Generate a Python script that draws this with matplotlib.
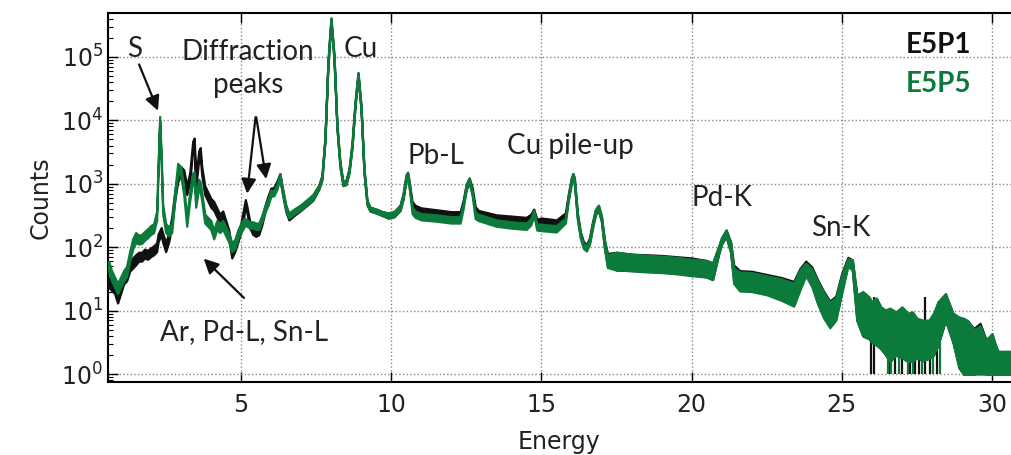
import numpy as np
import matplotlib
matplotlib.use("Agg")
import matplotlib.pyplot as plt

plt.rcParams["font.family"] = "DejaVu Sans"
plt.rcParams["mathtext.fontset"] = "dejavusans"

# --- spectrum data (log10 of counts) ---
energy = [
    0.6, 0.7, 0.8, 0.9, 1.0, 1.1, 1.2, 1.3, 1.4, 1.5,
    1.6, 1.7, 1.8, 1.9, 2.0, 2.1, 2.2, 2.25, 2.3, 2.35,
    2.4, 2.5, 2.6, 2.7, 2.8, 2.9, 3.0, 3.1, 3.2, 3.3,
    3.4, 3.45, 3.5, 3.6, 3.65, 3.7, 3.8, 3.9, 4.0, 4.1,
    4.2, 4.3, 4.4, 4.5, 4.6, 4.7, 4.8, 4.9, 5.0, 5.1,
    5.15, 5.2, 5.3, 5.4, 5.5, 5.6, 5.7, 5.8, 5.9, 6.0,
    6.1, 6.2, 6.3, 6.4, 6.5, 6.6, 6.8, 7.0, 7.2, 7.4,
    7.6, 7.7, 7.8, 7.9, 8.0, 8.1, 8.2, 8.3, 8.4, 8.5,
    8.6, 8.7, 8.8, 8.9, 9.0, 9.1, 9.2, 9.3, 9.5, 9.7,
    9.9, 10.1, 10.3, 10.4, 10.5, 10.55, 10.6, 10.7, 10.8, 11.0,
    11.5, 12.0, 12.3, 12.4, 12.5, 12.6, 12.7, 12.8, 12.9, 13.5,
    14.0, 14.5, 14.65, 14.75, 14.85, 15.0, 15.5, 15.8, 15.9, 16.0,
    16.05, 16.1, 16.2, 16.3, 16.4, 16.5, 16.6, 16.7, 16.8, 16.9,
    17.0, 17.1, 17.2, 17.5, 18.0, 18.5, 19.0, 19.5, 20.0, 20.5,
    20.7, 20.9, 21.0, 21.15, 21.3, 21.4, 21.6, 22.0, 22.5, 23.0,
    23.4, 23.6, 23.8, 24.0, 24.2, 24.4, 24.6, 24.8, 25.0, 25.2,
    25.35, 25.5, 25.7, 25.9, 26.0, 26.15, 26.3, 26.45, 26.6, 26.8,
    27.0, 27.2, 27.35, 27.5, 27.7, 27.9, 28.05, 28.2, 28.45, 28.7,
    28.9, 29.05, 29.2, 29.4, 29.6, 29.8, 30.0, 30.1, 30.2, 30.4,
    30.65,
]

# E5P1 (black): centre of the trace and half-width of its noise band
p1_level = [
    1.45, 1.40, 1.35, 1.20, 1.35, 1.50, 1.55, 1.70, 1.75, 1.80,
    1.85, 1.85, 1.90, 1.88, 1.92, 1.95, 2.00, 2.15, 2.20, 2.25,
    2.15, 2.00, 2.15, 2.40, 2.80, 3.10, 3.20, 3.15, 2.90, 3.10,
    3.60, 3.65, 3.00, 3.45, 3.50, 3.20, 2.90, 2.80, 2.70, 2.65,
    2.55, 2.45, 2.50, 2.35, 2.20, 1.90, 2.00, 2.15, 2.30, 2.55,
    2.70, 2.60, 2.35, 2.25, 2.22, 2.25, 2.40, 2.60, 2.75, 2.88,
    2.90, 3.00, 3.12, 2.85, 2.60, 2.47, 2.55, 2.62, 2.70, 2.78,
    2.95, 3.10, 3.70, 4.90, 5.58, 5.00, 3.90, 3.30, 3.00, 3.02,
    3.20, 3.60, 4.25, 4.72, 4.20, 3.20, 2.70, 2.60, 2.57, 2.53,
    2.50, 2.52, 2.62, 2.80, 3.10, 3.14, 3.00, 2.68, 2.62, 2.58,
    2.55, 2.52, 2.52, 2.70, 2.95, 3.05, 2.90, 2.60, 2.54, 2.47,
    2.45, 2.43, 2.48, 2.56, 2.40, 2.42, 2.39, 2.50, 2.80, 3.05,
    3.12, 3.05, 2.50, 2.20, 2.05, 2.00, 2.10, 2.35, 2.55, 2.62,
    2.45, 2.05, 1.80, 1.78, 1.76, 1.75, 1.74, 1.72, 1.70, 1.66,
    1.62, 1.95, 2.10, 2.22, 2.00, 1.60, 1.48, 1.47, 1.42, 1.35,
    1.28, 1.50, 1.68, 1.55, 1.30, 1.10, 0.95, 1.05, 1.45, 1.78,
    1.72, 1.04, 0.94, 0.88, 0.81, 0.82, 0.72, 0.65, 0.61, 0.63,
    0.65, 0.57, 0.58, 0.56, 0.52, 0.54, 0.62, 0.79, 1.05, 0.72,
    0.49, 0.43, 0.41, 0.36, 0.42, 0.27, 0.31, 0.23, 0.17, 0.17,
    0.17,
]
p1_spread = [
    0.08, 0.08, 0.08, 0.08, 0.08, 0.08, 0.08, 0.08, 0.08, 0.08,
    0.07, 0.07, 0.07, 0.07, 0.07, 0.07, 0.07, 0.06, 0.06, 0.06,
    0.07, 0.07, 0.07, 0.07, 0.07, 0.07, 0.07, 0.07, 0.07, 0.07,
    0.07, 0.07, 0.07, 0.07, 0.07, 0.07, 0.07, 0.07, 0.07, 0.07,
    0.07, 0.07, 0.07, 0.07, 0.07, 0.07, 0.07, 0.07, 0.07, 0.07,
    0.05, 0.05, 0.05, 0.05, 0.05, 0.05, 0.05, 0.05, 0.05, 0.05,
    0.04, 0.04, 0.04, 0.04, 0.04, 0.04, 0.04, 0.04, 0.04, 0.04,
    0.03, 0.03, 0.03, 0.03, 0.03, 0.03, 0.03, 0.03, 0.03, 0.03,
    0.03, 0.03, 0.03, 0.03, 0.03, 0.03, 0.03, 0.03, 0.03, 0.03,
    0.04, 0.04, 0.04, 0.04, 0.04, 0.04, 0.04, 0.04, 0.04, 0.04,
    0.04, 0.04, 0.04, 0.04, 0.04, 0.04, 0.04, 0.04, 0.04, 0.04,
    0.04, 0.04, 0.04, 0.04, 0.04, 0.04, 0.04, 0.04, 0.04, 0.04,
    0.04, 0.04, 0.04, 0.04, 0.04, 0.04, 0.04, 0.04, 0.04, 0.04,
    0.04, 0.06, 0.10, 0.14, 0.13, 0.13, 0.13, 0.13, 0.13, 0.13,
    0.13, 0.06, 0.05, 0.05, 0.08, 0.12, 0.15, 0.15, 0.15, 0.17,
    0.18, 0.16, 0.10, 0.14, 0.18, 0.20, 0.20, 0.18, 0.14, 0.06,
    0.08, 0.19, 0.34, 0.32, 0.31, 0.36, 0.32, 0.34, 0.41, 0.33,
    0.39, 0.37, 0.38, 0.30, 0.31, 0.29, 0.32, 0.33, 0.20, 0.22,
    0.39, 0.43, 0.41, 0.36, 0.38, 0.27, 0.31, 0.23, 0.17, 0.17,
    0.17,
]

# E5P5 (green)
p5_level = [
    1.70, 1.55, 1.45, 1.35, 1.45, 1.55, 1.62, 1.85, 2.05, 2.15,
    2.12, 2.13, 2.18, 2.22, 2.27, 2.30, 2.50, 3.30, 4.03, 3.40,
    2.60, 2.30, 2.25, 2.30, 2.80, 3.25, 3.20, 2.90, 2.40, 2.80,
    3.10, 3.12, 2.70, 3.00, 2.95, 2.80, 2.45, 2.40, 2.35, 2.20,
    2.35, 2.30, 2.35, 2.25, 2.15, 2.00, 2.05, 2.20, 2.30, 2.38,
    2.40, 2.38, 2.35, 2.35, 2.33, 2.33, 2.45, 2.60, 2.70, 2.85,
    2.85, 2.95, 3.12, 2.85, 2.62, 2.50, 2.57, 2.63, 2.71, 2.79,
    2.95, 3.10, 3.70, 4.90, 5.58, 5.00, 3.90, 3.30, 3.00, 3.02,
    3.20, 3.60, 4.25, 4.72, 4.20, 3.20, 2.70, 2.60, 2.57, 2.53,
    2.50, 2.52, 2.62, 2.80, 3.10, 3.14, 3.00, 2.58, 2.52, 2.48,
    2.46, 2.43, 2.43, 2.65, 2.95, 3.05, 2.85, 2.50, 2.47, 2.38,
    2.35, 2.33, 2.40, 2.54, 2.32, 2.31, 2.29, 2.42, 2.78, 3.05,
    3.12, 3.05, 2.48, 2.18, 2.02, 1.98, 2.08, 2.33, 2.55, 2.62,
    2.45, 2.05, 1.78, 1.78, 1.76, 1.74, 1.73, 1.71, 1.68, 1.66,
    1.62, 1.95, 2.10, 2.22, 2.00, 1.55, 1.46, 1.45, 1.40, 1.33,
    1.25, 1.48, 1.65, 1.52, 1.28, 1.08, 0.93, 1.03, 1.42, 1.76,
    1.72, 1.05, 0.95, 0.89, 0.82, 0.83, 0.73, 0.66, 0.62, 0.64,
    0.66, 0.58, 0.59, 0.57, 0.53, 0.55, 0.63, 0.80, 1.06, 0.73,
    0.50, 0.44, 0.42, 0.35, 0.38, 0.27, 0.32, 0.24, 0.18, 0.18,
    0.18,
]
p5_spread = [
    0.08, 0.08, 0.08, 0.08, 0.08, 0.08, 0.08, 0.08, 0.08, 0.08,
    0.07, 0.07, 0.07, 0.07, 0.07, 0.07, 0.07, 0.05, 0.03, 0.05,
    0.07, 0.07, 0.07, 0.07, 0.07, 0.07, 0.07, 0.07, 0.07, 0.07,
    0.07, 0.07, 0.07, 0.07, 0.07, 0.07, 0.07, 0.07, 0.07, 0.07,
    0.07, 0.07, 0.07, 0.07, 0.07, 0.07, 0.07, 0.07, 0.07, 0.07,
    0.05, 0.05, 0.05, 0.05, 0.05, 0.05, 0.05, 0.05, 0.05, 0.05,
    0.04, 0.04, 0.04, 0.04, 0.04, 0.04, 0.04, 0.04, 0.04, 0.04,
    0.03, 0.03, 0.03, 0.03, 0.03, 0.03, 0.03, 0.03, 0.03, 0.03,
    0.03, 0.03, 0.03, 0.03, 0.03, 0.03, 0.03, 0.03, 0.03, 0.03,
    0.04, 0.04, 0.04, 0.04, 0.04, 0.04, 0.04, 0.05, 0.05, 0.05,
    0.05, 0.05, 0.05, 0.04, 0.04, 0.04, 0.04, 0.05, 0.05, 0.05,
    0.05, 0.05, 0.05, 0.04, 0.05, 0.05, 0.05, 0.04, 0.04, 0.04,
    0.04, 0.04, 0.04, 0.04, 0.04, 0.04, 0.04, 0.04, 0.04, 0.04,
    0.04, 0.06, 0.10, 0.14, 0.13, 0.13, 0.13, 0.13, 0.13, 0.13,
    0.13, 0.06, 0.05, 0.05, 0.08, 0.12, 0.15, 0.15, 0.15, 0.17,
    0.18, 0.16, 0.10, 0.14, 0.18, 0.20, 0.20, 0.18, 0.14, 0.06,
    0.08, 0.20, 0.35, 0.33, 0.32, 0.37, 0.33, 0.35, 0.42, 0.34,
    0.40, 0.38, 0.39, 0.31, 0.32, 0.30, 0.33, 0.34, 0.21, 0.23,
    0.40, 0.44, 0.42, 0.35, 0.38, 0.27, 0.32, 0.24, 0.18, 0.18,
    0.18,
]

# energies where a trace drops to a single count, with the top of each drop (log10)
p1_spikes = [25.96, 26.06, 26.61, 26.78, 27.0, 27.28, 27.44, 27.56, 27.78, 27.94, 28.16]
p1_spike_top = [0.6, 1.22, 0.6, 0.6, 0.6, 0.6, 0.6, 0.6, 1.22, 0.6, 0.6]
p5_spikes = [26.55, 26.65, 26.9, 27.2, 27.36, 27.67, 28.05, 28.27]
p5_spike_top = [0.5, 0.5, 0.5, 0.5, 0.5, 0.5, 0.5, 0.5]

black = "#111111"
green = "#0c7a3a"

fig = plt.figure(figsize=(10.11, 4.55), dpi=100)
ax = fig.add_axes([0.1068, 0.1604, 0.8932, 0.811])

e = np.array(energy)
series = [(p1_level, p1_spread, black, p1_spikes, p1_spike_top),
          (p5_level, p5_spread, green, p5_spikes, p5_spike_top)]
for lvl, spr, col, spikes, tops in series:
    lvl = np.array(lvl)
    spr = np.array(spr)
    ax.fill_between(e, 10 ** (lvl - spr), 10 ** (lvl + spr), color=col,
                    edgecolor=col, linewidth=1.6, zorder=3)
    ax.vlines(spikes, 1.0, 10 ** np.array(tops), color=col, linewidth=1.6, zorder=3)

ax.set_yscale("log")
ax.set_xlim(0.58, 30.63)
ax.set_ylim(0.75, 4.9e5)
ax.set_xticks([5, 10, 15, 20, 25, 30])
ax.grid(True, which="major", linestyle=":", color="#888888", linewidth=1.0, zorder=1)
ax.tick_params(which="both", direction="in", top=True, right=False, labelsize=17,
               labelcolor="#222222")
ax.tick_params(which="major", length=7, width=1)
ax.tick_params(which="minor", length=3.5, width=0.8)
ax.tick_params(axis="x", which="minor", bottom=False, top=False)
ax.tick_params(axis="x", pad=8)
ax.spines["right"].set_visible(False)
for s in ["left", "top", "bottom"]:
    ax.spines[s].set_linewidth(1.5)

ax.set_xlabel("Energy", fontsize=17, labelpad=9, color="#222222")
ax.set_ylabel("Counts", fontsize=17, labelpad=6, color="#222222")

# annotations
afont = dict(family="Lato", fontsize=20, color="#222222")
ax.text(1.48, 10 ** 5.13, "S", ha="center", va="center", **afont)
ax.text(9.0, 10 ** 5.13, "Cu", ha="center", va="center", **afont)
ax.text(5.23, 10 ** 4.82, "Diffraction\npeaks", ha="center", va="center",
        linespacing=1.35, **afont)
ax.text(11.48, 10 ** 3.44, "Pb-L", ha="center", va="center", **afont)
ax.text(15.96, 10 ** 3.59, "Cu pile-up", ha="center", va="center", **afont)
ax.text(21.01, 10 ** 2.78, "Pd-K", ha="center", va="center", **afont)
ax.text(24.97, 10 ** 2.3, "Sn-K", ha="center", va="center", **afont)
ax.text(5.1, 10 ** 0.66, "Ar, Pd-L, Sn-L", ha="center", va="center", **afont)

arrow = dict(arrowstyle="-|>", color="#111111", lw=1.6, mutation_scale=22)
ax.annotate("", xy=(2.28, 10 ** 4.11), xytext=(1.58, 10 ** 4.92), arrowprops=arrow)
ax.annotate("", xy=(5.2, 10 ** 2.8), xytext=(5.5, 10 ** 4.09), arrowprops=arrow)
ax.annotate("", xy=(5.86, 10 ** 3.03), xytext=(5.5, 10 ** 4.09), arrowprops=arrow)
ax.annotate("", xy=(3.7, 10 ** 1.85), xytext=(5.17, 10 ** 1.17), arrowprops=arrow)

lfont = dict(family="Lato", fontsize=20, fontweight="bold", ha="right", va="center")
ax.text(29.32, 10 ** 5.18, "E5P1", color=black, **lfont)
ax.text(29.32, 10 ** 4.57, "E5P5", color=green, **lfont)

fig.savefig("out.png", dpi=100)
